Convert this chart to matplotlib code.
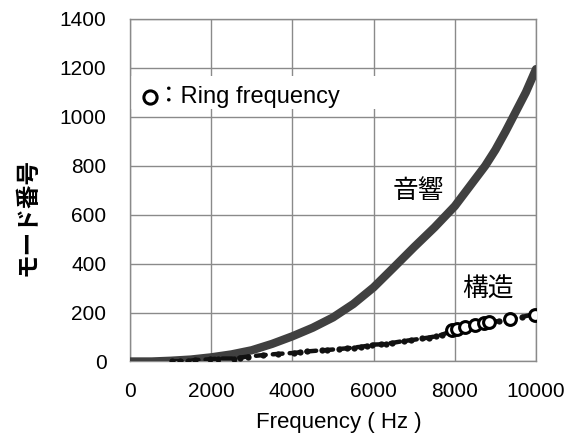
import matplotlib
matplotlib.use('Agg')
import matplotlib.pyplot as plt
from matplotlib.patches import Rectangle

plt.rcParams['font.family'] = ['Liberation Sans', 'Noto Sans CJK JP', 'DejaVu Sans']
jp_font = ['Noto Sans CJK JP', 'DejaVu Sans']

# acoustic (音響) mode count
acoustic_freq = [0, 535, 1000, 1500, 2000, 2500, 3000, 3500, 4000, 4500,
                 5000, 5500, 6000, 6500, 7000, 7500, 8000, 8250, 8500, 8750,
                 9000, 9250, 9500, 9750, 10000]
acoustic_mode = [0, 0, 3, 8, 17, 29, 46, 72, 103, 138,
                 180, 235, 303, 385, 468, 548, 635, 690, 745, 800,
                 865, 940, 1020, 1100, 1195]

# structural (構造) mode points, black dots
struct_freq = [1030, 1235, 1440, 1605, 1975, 2156, 2551, 2716, 2896, 3267, 3647,
               4033, 4198, 4362, 4733, 4856, 5144, 5350, 5514, 5679, 5844, 5967,
               6173, 6296, 6461, 6749, 6914, 7202, 7366, 7531, 7696, 7850,
               8000, 8400, 8650, 9100, 9650, 10000]
struct_mode = [1, 1, 2, 6, 9, 12, 12, 16, 20, 26, 31,
               35, 38, 41, 46, 47, 51, 54, 57, 60, 64, 69,
               70, 73, 76, 84, 87, 94, 98, 103, 110, 120,
               130, 146, 155, 166, 182, 195]

# ring frequency circles
ring_freq = [7942, 8066, 8255, 8502, 8708, 8848, 9358, 9983]
ring_mode = [127, 134, 142, 150, 157, 161, 172, 192]

x_ticks = [0, 2000, 4000, 6000, 8000, 10000]
y_ticks = [0, 200, 400, 600, 800, 1000, 1200, 1400]

grid_col = '#8a8a8a'

fig = plt.figure(figsize=(5.74, 4.37), dpi=100)
ax = fig.add_axes([0.2265, 0.1728, 0.7073, 0.7838])

ax.plot(acoustic_freq, acoustic_mode, color='#404040', lw=6,
        solid_capstyle='round', solid_joinstyle='round', zorder=3)
ax.plot(struct_freq, struct_mode, color='#111111', lw=3.2,
        linestyle=(0, (2.2, 1.6)), dash_capstyle='round', zorder=4)
ax.plot(struct_freq, struct_mode, 'o', color='#111111', ms=4.5, mew=0, zorder=4)
ax.plot(ring_freq, ring_mode, 'o', mfc='white', mec='black', ms=8.5, mew=2.2, zorder=5)

ax.set_xlim(0, 10000)
ax.set_ylim(0, 1400)
ax.set_xticks(x_ticks)
ax.set_yticks(y_ticks)
ax.grid(True, color=grid_col, lw=1.0)
for s in ax.spines.values():
    s.set_color(grid_col)
    s.set_linewidth(1.0)
ax.tick_params(length=0, labelsize=15)
ax.tick_params(axis='x', pad=15)
ax.tick_params(axis='y', pad=17)

ax.set_xlabel('Frequency ( Hz )', fontsize=16)
ax.xaxis.set_label_coords(0.515, -0.148)
fig.text(27 / 574, 1 - 217 / 437, 'モード番号', rotation=90, family=jp_font,
         ha='center', va='center', fontsize=17, weight='bold')

# legend box for ring frequency
ax.add_patch(Rectangle((0, 1033), 6060, 134, facecolor='white',
                       edgecolor='none', zorder=2))
ax.plot([493], [1081], 'o', mfc='white', mec='black', ms=9.5, mew=2.2, zorder=3)
ax.text(665, 1081, '：Ring frequency', fontsize=17, va='center', ha='left', zorder=3)

ax.text(7111, 696, '音響', fontsize=18.5, ha='center', va='center', family=jp_font)
ax.text(8815, 293, '構造', fontsize=18.5, ha='center', va='center', family=jp_font)

fig.savefig('out.png', dpi=100)
